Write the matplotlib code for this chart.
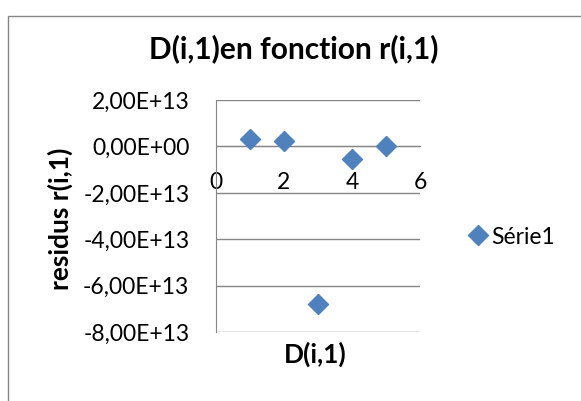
import matplotlib.pyplot as plt
from matplotlib.patches import Rectangle
from matplotlib.ticker import FuncFormatter, MultipleLocator

# data
d_vals = [1, 2, 3, 4, 5]
residus = [3.1e12, 2.4e12, -6.78e13, -5.2e12, 0.0]
serie_name = 'Série1'

blue = '#4F81BD'
grid_col = '#868686'

plt.rcParams['font.family'] = ['Lato', 'DejaVu Sans']

fig = plt.figure(figsize=(5.81, 4.01), dpi=100)
ax = fig.add_axes([215.7/581, 1-332.3/401, (420-215.7)/581, (332.3-100)/401])

ax.plot(d_vals, residus, linestyle='none', marker='D', markersize=10,
        color=blue, label=serie_name, zorder=3, clip_on=False)

ax.set_xlim(0, 6)
ax.set_ylim(-8e13, 2e13)
ax.xaxis.set_major_locator(MultipleLocator(2))
ax.yaxis.set_major_locator(MultipleLocator(2e13))
ax.yaxis.set_major_formatter(FuncFormatter(lambda v, p: f"{v:.2E}".replace('.', ',')))

ax.grid(axis='y', color=grid_col, linewidth=1)
ax.set_axisbelow(True)
for s in ['top', 'right']:
    ax.spines[s].set_visible(False)
ax.spines['bottom'].set_position(('data', 0))
ax.spines['bottom'].set_color(grid_col)
ax.spines['left'].set_color(grid_col)
ax.tick_params(axis='both', length=0, labelsize=16.5)
ax.tick_params(axis='x', pad=18.5)
ax.tick_params(axis='y', pad=19)

fig.text(293.5/581, 1-49/401, 'D(i,1)en fonction r(i,1)', ha='center', va='center',
         fontsize=21.5, fontweight='bold')
fig.text(315/581, 1-354/401, 'D(i,1)', ha='center', va='center',
         fontsize=19, fontweight='bold')
fig.text(60/581, 1-219/401, 'residus r(i,1)', ha='center', va='center',
         rotation=90, fontsize=19, fontweight='bold')

fig.legend(loc='center left', bbox_to_anchor=(443.5/581, 1-237/401), frameon=False,
           fontsize=16.5, handletextpad=0.0, markerscale=1.0, handlelength=1.2)

fig.patches.append(Rectangle((8/581, -0.1), 1.1, 1.08 - 8/401,
                             transform=fig.transFigure, fill=False,
                             edgecolor=grid_col, linewidth=1))

fig.savefig('out.png', dpi=100)
